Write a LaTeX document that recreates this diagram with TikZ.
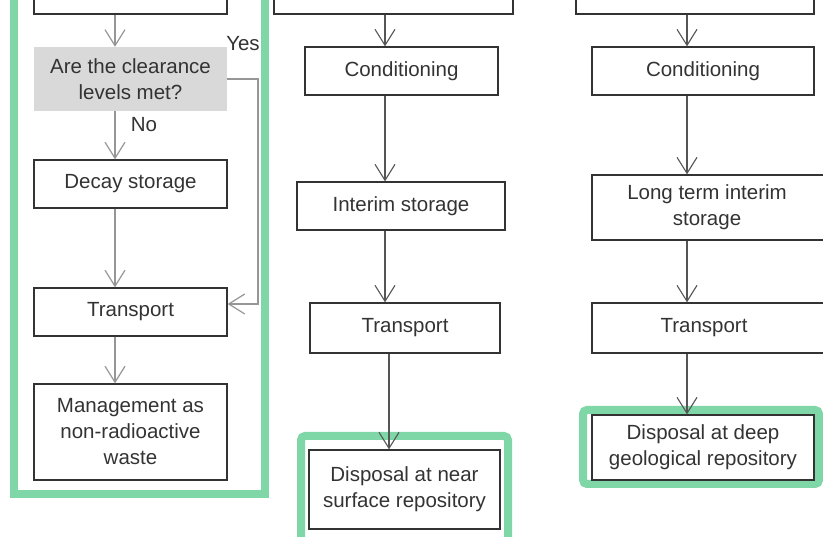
\documentclass[tikz,border=0pt]{standalone}
\usepackage{fontspec}
\setmainfont{Liberation Sans}
\usetikzlibrary{arrows.meta}
\definecolor{frameGreen}{RGB}{127,214,166}
\definecolor{queryGray}{RGB}{217,217,217}
\definecolor{ink}{RGB}{51,51,51}
\definecolor{lightLine}{RGB}{150,150,150}
\definecolor{darkLine}{RGB}{85,85,85}

\begin{document}
\begin{tikzpicture}[x=1pt,y=-1pt,
  font=\fontsize{20.5}{26}\selectfont, text=ink,
  box/.style={draw=ink, line width=1.3pt, inner sep=0pt, align=center},
  query/.style={fill=queryGray, inner sep=0pt, align=center},
  lbl/.style={inner sep=0pt},
  flowL/.style={line width=1.3pt, draw=lightLine,
    -{Straight Barb[length=16pt,width=20pt,line width=1.2pt]}},
  flowD/.style={line width=1.1pt, draw=darkLine,
    -{Straight Barb[length=16pt,width=20pt,line width=1.1pt]}},
  greenframe/.style={draw=frameGreen, line width=8pt},
]
\useasboundingbox (0,0) rectangle (823,537);
\clip (0,0) rectangle (823,537);

% ---------- green highlight frames ----------
\draw[greenframe] (14,-20) rectangle (265,494.5);
\draw[greenframe, rounded corners=4pt] (301,560) rectangle (508,436);
\draw[greenframe, rounded corners=4pt] (583,484) rectangle (819,410);

% ---------- left column: exempt waste ----------
\node[box, minimum width=193pt, minimum height=34pt] (top1) at (130.5,-3) {};
\node[query, minimum width=193pt, minimum height=64pt] (dec) at (130.5,79)
  {Are the clearance\\levels met?};
\node[box, minimum width=193pt, minimum height=48pt] (decay) at (130.5,184) {Decay storage};
\node[box, minimum width=193pt, minimum height=48pt] (tr1) at (130.5,312) {Transport};
\node[box, minimum width=193pt, minimum height=96pt] (mgmt) at (130.5,432)
  {Management as\\non-radioactive\\waste};

\coordinate (ax1) at (115,0);
\coordinate (yesX) at (258,0);
\coordinate (yesIn) at ([yshift=8pt]tr1.east);

\draw[flowL] (top1.south -| ax1) -- (dec.north -| ax1);
\draw[flowL] (dec.south -| ax1) -- (decay.north -| ax1);
\draw[flowL] (decay.south -| ax1) -- (tr1.north -| ax1);
\draw[flowL] (tr1.south -| ax1) -- (mgmt.north -| ax1);
\draw[flowL] (dec.east) -- (dec.east -| yesX) -- (yesX |- yesIn) -- (yesIn);

\node[lbl] (yes) at (243,44) {Yes};
\node[lbl] (no) at (144,125) {No};

% ---------- middle column: near surface disposal ----------
\node[box, minimum width=239pt, minimum height=34pt] (top2) at (393.5,-3) {};
\node[box, minimum width=193pt, minimum height=48pt] (cond2) at (401.5,71) {Conditioning};
\node[box, minimum width=208pt, minimum height=48pt] (int2) at (401,206) {Interim storage};
\node[box, minimum width=190pt, minimum height=50pt] (tr2) at (405,328) {Transport};
\node[box, minimum width=191pt, minimum height=79pt] (disp2) at (404.5,489.5)
  {Disposal at near\\surface repository};

\coordinate (ax2) at (385,0);
\coordinate (ax2b) at (389,0);

\draw[flowD] (top2.south -| ax2) -- (cond2.north -| ax2);
\draw[flowD] (cond2.south -| ax2) -- (int2.north -| ax2);
\draw[flowD] (int2.south -| ax2) -- (tr2.north -| ax2);
\draw[flowD] (tr2.south -| ax2b) -- (disp2.north -| ax2b);

% ---------- right column: geological disposal ----------
\node[box, minimum width=238pt, minimum height=34pt] (top3) at (695,-3) {};
\node[box, minimum width=222pt, minimum height=48pt] (cond3) at (703,71) {Conditioning};
\node[box, minimum width=238pt, minimum height=65pt] (lt3) at (711,207.5) {};
\node[lbl, align=center] (lt3txt) at (707,207.5) {Long term interim\\storage};
\node[box, minimum width=238pt, minimum height=50pt] (tr3) at (711,328) {};
\node[lbl] (tr3txt) at (704,328) {Transport};
\node[box, minimum width=222pt, minimum height=65pt] (disp3) at (703,447.5)
  {Disposal at deep\\geological repository};

\coordinate (ax3) at (687,0);

\draw[flowD] (top3.south -| ax3) -- (cond3.north -| ax3);
\draw[flowD] (cond3.south -| ax3) -- (lt3.north -| ax3);
\draw[flowD] (lt3.south -| ax3) -- (tr3.north -| ax3);
\draw[flowD] (tr3.south -| ax3) -- (disp3.north -| ax3);
\end{tikzpicture}
\end{document}
